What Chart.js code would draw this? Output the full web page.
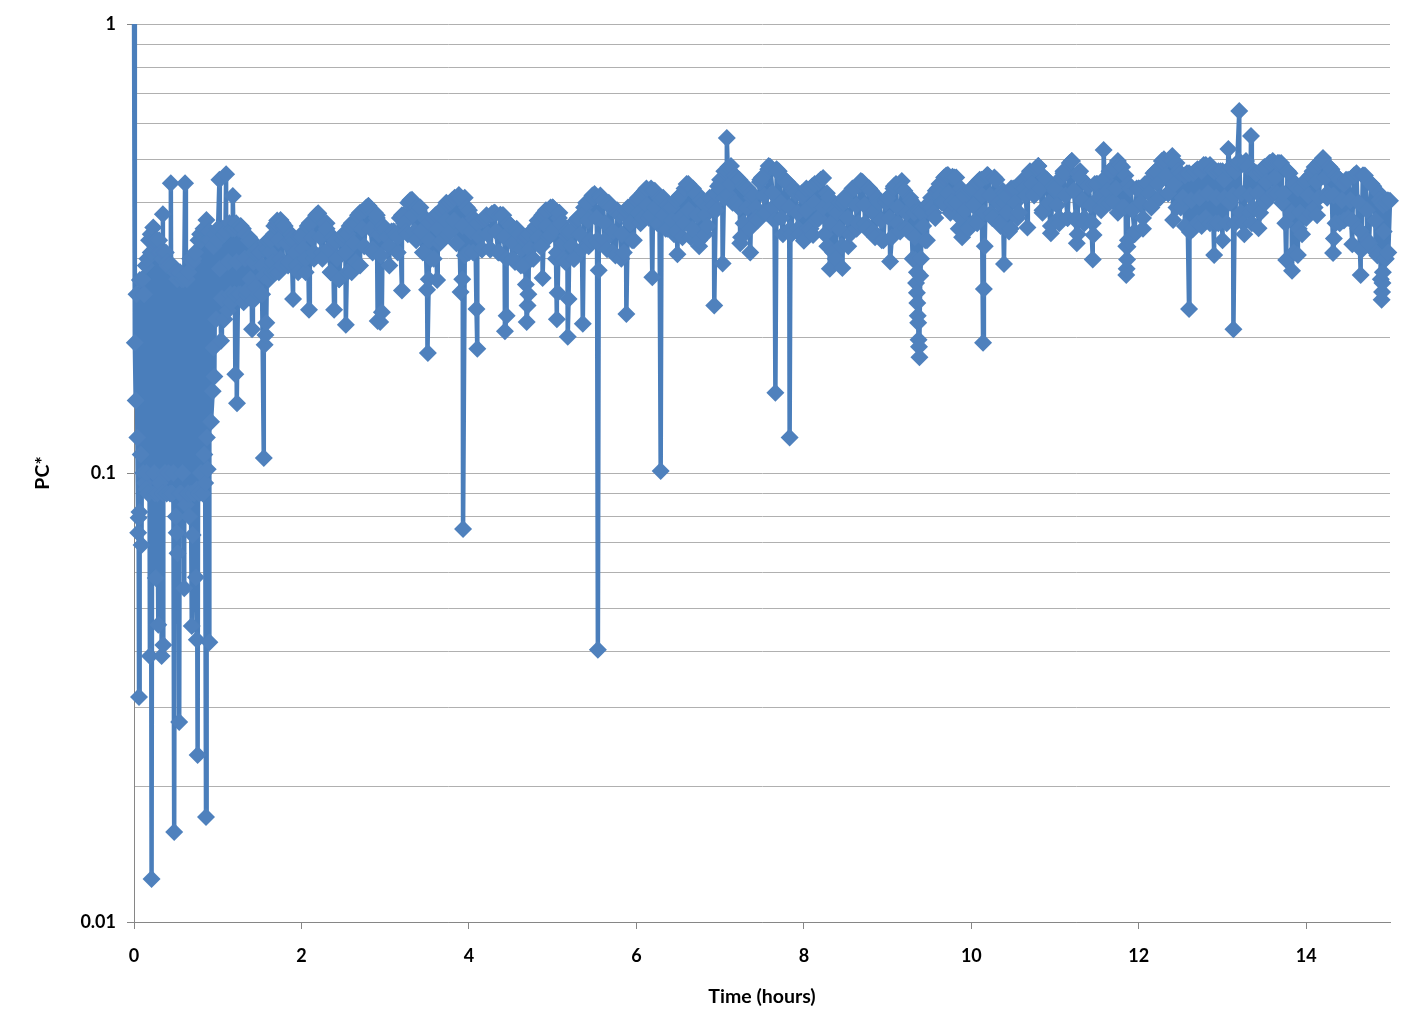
<!DOCTYPE html>
<html>
<head>
<meta charset="utf-8">
<title>PC* vs time</title>
<script src="https://cdn.jsdelivr.net/npm/chart.js@4"></script>
<style>
  html, body { margin: 0; padding: 0; background: #fff; }
  canvas { display: block; }
</style>
</head>
<body>
<canvas id="chart" width="1424" height="1035"></canvas>
<script>
// spikes and single readings, one row per hour
const times = [
  0.00, 0.01, 0.02, 0.03, 0.04, 0.05, 0.055, 0.06, 0.065, 0.07, 0.08, 0.09, 0.10, 0.11, 0.12, 0.13, 0.14, 0.15, 0.16, 0.17, 0.18, 0.19, 0.20, 0.21, 0.22, 0.23, 0.24, 0.25, 0.26, 0.27, 0.28, 0.29, 0.30, 0.31, 0.32, 0.33, 0.34, 0.345, 0.35, 0.36, 0.37, 0.38, 0.39, 0.40, 0.41, 0.42, 0.43, 0.44, 0.45, 0.46, 0.47, 0.48, 0.49, 0.50, 0.51, 0.515, 0.52, 0.53, 0.54, 0.55, 0.56, 0.57, 0.58, 0.59, 0.60, 0.61, 0.62, 0.63, 0.64, 0.65, 0.66, 0.67, 0.68, 0.69, 0.70, 0.71, 0.72, 0.73, 0.74, 0.75, 0.76, 0.77, 0.78, 0.79, 0.80, 0.81, 0.82, 0.83, 0.84, 0.85, 0.86, 0.865, 0.87, 0.88, 0.89, 0.90, 0.91, 0.92, 0.94, 0.95, 0.96, 0.97, 0.98,
  1.00, 1.02, 1.04, 1.06, 1.08, 1.10, 1.12, 1.14, 1.16, 1.18, 1.20, 1.21, 1.22, 1.23, 1.25, 1.27, 1.29, 1.31, 1.33, 1.35, 1.37, 1.39, 1.41, 1.42, 1.43, 1.45, 1.47, 1.49, 1.51, 1.53, 1.55, 1.56, 1.57, 1.58, 1.59, 1.61, 1.63, 1.65, 1.67, 1.69, 1.71, 1.73, 1.75, 1.77, 1.80, 1.84, 1.88, 1.90, 1.92, 1.96,
  2.00, 2.05, 2.09, 2.10, 2.15, 2.20, 2.25, 2.30, 2.35, 2.39, 2.40, 2.45, 2.50, 2.53, 2.55, 2.60, 2.65, 2.70, 2.75, 2.80, 2.85, 2.90, 2.91, 2.94, 2.96, 2.97,
  3.00, 3.05, 3.10, 3.15, 3.20, 3.22, 3.27, 3.32, 3.37, 3.42, 3.47, 3.50, 3.51, 3.52, 3.53, 3.58, 3.62, 3.63, 3.68, 3.73, 3.78, 3.83, 3.88, 3.90, 3.92, 3.93, 3.95,
  4.00, 4.05, 4.09, 4.10, 4.11, 4.16, 4.21, 4.26, 4.31, 4.36, 4.41, 4.43, 4.45, 4.47, 4.52, 4.57, 4.62, 4.67, 4.68, 4.69, 4.70, 4.71, 4.72, 4.77, 4.82, 4.87, 4.88, 4.92, 4.97,
  5.00, 5.04, 5.05, 5.06, 5.08, 5.13, 5.17, 5.18, 5.19, 5.21, 5.26, 5.31, 5.36, 5.38, 5.43, 5.48, 5.53, 5.54, 5.55, 5.57, 5.62, 5.67, 5.72, 5.77, 5.82, 5.87, 5.88, 5.92, 5.97,
  6.02, 6.07, 6.12, 6.17, 6.19, 6.22, 6.27, 6.29, 6.32, 6.37, 6.42, 6.47, 6.49, 6.52, 6.57, 6.62, 6.67, 6.72, 6.75, 6.77, 6.82, 6.87, 6.93, 6.95,
  7.00, 7.03, 7.05, 7.08, 7.10, 7.13, 7.18, 7.23, 7.24, 7.28, 7.33, 7.36, 7.38, 7.43, 7.48, 7.53, 7.58, 7.63, 7.66, 7.68, 7.73, 7.78, 7.83, 7.84, 7.88, 7.93, 7.98,
  8.00, 8.03, 8.08, 8.11, 8.13, 8.18, 8.23, 8.28, 8.31, 8.33, 8.38, 8.43, 8.46, 8.48, 8.53, 8.58, 8.63, 8.68, 8.73, 8.78, 8.83, 8.88, 8.93, 8.98,
  9.03, 9.07, 9.12, 9.17, 9.22, 9.27, 9.30, 9.32, 9.33, 9.34, 9.35, 9.355, 9.36, 9.365, 9.37, 9.375, 9.38, 9.39, 9.40, 9.42, 9.47, 9.52, 9.57, 9.62, 9.67, 9.72, 9.77, 9.82, 9.87, 9.89, 9.92, 9.97,
  10.02, 10.07, 10.12, 10.14, 10.15, 10.16, 10.19, 10.24, 10.29, 10.34, 10.39, 10.40, 10.42, 10.47, 10.52, 10.57, 10.62, 10.67, 10.70, 10.75, 10.80, 10.85, 10.90, 10.95,
  11.00, 11.05, 11.10, 11.15, 11.20, 11.25, 11.26, 11.27, 11.30, 11.35, 11.40, 11.45, 11.46, 11.50, 11.55, 11.58, 11.60, 11.65, 11.70, 11.75, 11.80, 11.84, 11.85, 11.855, 11.86, 11.865, 11.87, 11.90, 11.95,
  12.00, 12.05, 12.10, 12.15, 12.20, 12.25, 12.30, 12.35, 12.40, 12.41, 12.45, 12.50, 12.55, 12.60, 12.61, 12.65, 12.70, 12.75, 12.80, 12.85, 12.90, 12.92, 12.95,
  13.00, 13.02, 13.07, 13.09, 13.13, 13.15, 13.20, 13.22, 13.26, 13.28, 13.33, 13.34, 13.36, 13.41, 13.43, 13.46, 13.51, 13.56, 13.61, 13.66, 13.71, 13.76, 13.78, 13.83, 13.85, 13.90, 13.91, 13.95,
  14.00, 14.05, 14.10, 14.13, 14.15, 14.20, 14.25, 14.30, 14.32, 14.33, 14.35, 14.40, 14.45, 14.50, 14.55, 14.57, 14.62, 14.65, 14.66, 14.68, 14.73, 14.78, 14.83, 14.87, 14.89, 14.90, 14.905, 14.91, 14.915, 14.92, 14.94, 14.96, 14.98, 15.00
];

const pcValues = [
  1.15, 0.195, 0.145, 0.25, 0.12, 0.0736, 0.0795, 0.0317, 0.0819, 0.269, 0.11, 0.0691, 0.27, 0.1, 0.25, 0.095, 0.29, 0.1, 0.3, 0.09, 0.33, 0.0391, 0.34, 0.01247, 0.328, 0.352, 0.1, 0.33, 0.0584, 0.33, 0.09, 0.0459, 0.31, 0.095, 0.31, 0.0391, 0.30, 0.377, 0.0414, 0.31, 0.1, 0.31, 0.09, 0.29, 0.1, 0.29, 0.09, 0.442, 0.09, 0.29, 0.1, 0.01587, 0.28, 0.08, 0.0736, 0.27, 0.0663, 0.28, 0.0279, 0.28, 0.09, 0.27, 0.1, 0.27, 0.0554, 0.442, 0.085, 0.27, 0.09, 0.28, 0.08, 0.3, 0.09, 0.0456, 0.0728, 0.3, 0.09, 0.31, 0.0586, 0.0425, 0.02355, 0.33, 0.09, 0.34, 0.1, 0.34, 0.09, 0.35, 0.11, 0.35, 0.01714, 0.366, 0.12, 0.102, 0.33, 0.042, 0.33, 0.13, 0.152, 0.32, 0.164, 0.34, 0.22,
  0.35, 0.45, 0.197, 0.35, 0.22, 0.463, 0.23, 0.36, 0.24, 0.414, 0.25, 0.166, 0.36, 0.143, 0.35, 0.25, 0.35, 0.24, 0.34, 0.25, 0.33, 0.27, 0.209, 0.242, 0.31, 0.26, 0.31, 0.25, 0.31, 0.25, 0.108, 0.193, 0.203, 0.216, 0.315, 0.27, 0.33, 0.28, 0.34, 0.28, 0.365, 0.28, 0.366, 0.29, 0.35, 0.29, 0.33, 0.244, 0.33, 0.28,
  0.34, 0.28, 0.231, 0.36, 0.30, 0.379, 0.31, 0.36, 0.28, 0.231, 0.325, 0.27, 0.33, 0.214, 0.34, 0.28, 0.36, 0.29, 0.385, 0.393, 0.31, 0.37, 0.218, 0.217, 0.228, 0.35,
  0.345, 0.29, 0.345, 0.31, 0.255, 0.375, 0.34, 0.406, 0.33, 0.39, 0.31, 0.256, 0.185, 0.27, 0.36, 0.30, 0.269, 0.379, 0.33, 0.40, 0.345, 0.41, 0.416, 0.253, 0.27, 0.075, 0.41,
  0.31, 0.37, 0.232, 0.189, 0.36, 0.315, 0.375, 0.315, 0.38, 0.31, 0.375, 0.207, 0.224, 0.36, 0.30, 0.35, 0.29, 0.33, 0.263, 0.217, 0.236, 0.25, 0.34, 0.30, 0.365, 0.32, 0.272, 0.385, 0.339,
  0.39, 0.30, 0.22, 0.252, 0.38, 0.30, 0.337, 0.201, 0.244, 0.345, 0.30, 0.37, 0.215, 0.38, 0.32, 0.41, 0.33, 0.0404, 0.283, 0.415, 0.33, 0.40, 0.31, 0.385, 0.30, 0.374, 0.226, 0.39, 0.33,
  0.41, 0.37, 0.43, 0.375, 0.273, 0.425, 0.36, 0.101, 0.41, 0.35, 0.39, 0.345, 0.307, 0.415, 0.36, 0.44, 0.35, 0.42, 0.32, 0.405, 0.34, 0.395, 0.236, 0.42,
  0.45, 0.293, 0.47, 0.557, 0.416, 0.483, 0.40, 0.45, 0.325, 0.36, 0.43, 0.31, 0.41, 0.37, 0.45, 0.38, 0.483, 0.39, 0.151, 0.47, 0.37, 0.445, 0.12, 0.35, 0.43, 0.35, 0.414,
  0.329, 0.43, 0.35, 0.339, 0.44, 0.37, 0.454, 0.32, 0.285, 0.39, 0.30, 0.40, 0.286, 0.41, 0.32, 0.43, 0.35, 0.447, 0.36, 0.43, 0.345, 0.41, 0.33, 0.40,
  0.296, 0.43, 0.36, 0.447, 0.35, 0.41, 0.30, 0.38, 0.298, 0.265, 0.252, 0.239, 0.224, 0.216, 0.198, 0.191, 0.181, 0.275, 0.30, 0.379, 0.33, 0.41, 0.37, 0.44, 0.40, 0.461, 0.40, 0.455, 0.37, 0.335, 0.414, 0.35,
  0.43, 0.36, 0.45, 0.195, 0.257, 0.32, 0.461, 0.38, 0.45, 0.36, 0.292, 0.40, 0.414, 0.35, 0.43, 0.38, 0.45, 0.352, 0.47, 0.42, 0.483, 0.38, 0.45, 0.342,
  0.425, 0.37, 0.47, 0.37, 0.495, 0.37, 0.325, 0.34, 0.47, 0.37, 0.435, 0.299, 0.339, 0.44, 0.39, 0.524, 0.40, 0.47, 0.402, 0.495, 0.39, 0.46, 0.276, 0.285, 0.299, 0.319, 0.33, 0.43, 0.34,
  0.43, 0.35, 0.44, 0.39, 0.47, 0.41, 0.49, 0.42, 0.508, 0.366, 0.49, 0.39, 0.46, 0.232, 0.344, 0.465, 0.36, 0.47, 0.37, 0.485, 0.306, 0.36, 0.47,
  0.33, 0.45, 0.527, 0.40, 0.209, 0.47, 0.64, 0.38, 0.34, 0.495, 0.38, 0.563, 0.39, 0.465, 0.351, 0.47, 0.40, 0.49, 0.42, 0.49, 0.40, 0.298, 0.47, 0.282, 0.44, 0.306, 0.35, 0.43,
  0.37, 0.46, 0.39, 0.375, 0.49, 0.503, 0.42, 0.47, 0.309, 0.333, 0.46, 0.36, 0.44, 0.37, 0.323, 0.46, 0.35, 0.276, 0.314, 0.46, 0.33, 0.44, 0.31, 0.42, 0.27, 0.243, 0.253, 0.265, 0.28, 0.395, 0.30, 0.40, 0.31, 0.404
];

// readings across the dense band from 1 h on, ten per hour, one row per hour
const bandHours = [1, 2, 3, 4, 5, 6, 7, 8, 9, 10, 11, 12, 13, 14];
const bandSteps = [0, 0.1, 0.2, 0.3, 0.4, 0.5, 0.6, 0.7, 0.8, 0.9];

const upperValues = [
  0.33, 0.345, 0.35, 0.35, 0.33, 0.31, 0.33, 0.36, 0.355, 0.335,
  0.335, 0.36, 0.378, 0.35, 0.33, 0.34, 0.36, 0.38, 0.393, 0.375,
  0.35, 0.345, 0.375, 0.405, 0.385, 0.365, 0.375, 0.39, 0.405, 0.41,
  0.385, 0.36, 0.37, 0.38, 0.375, 0.355, 0.34, 0.335, 0.355, 0.38,
  0.39, 0.36, 0.34, 0.37, 0.40, 0.418, 0.405, 0.39, 0.375, 0.39,
  0.405, 0.425, 0.425, 0.405, 0.39, 0.41, 0.44, 0.42, 0.40, 0.41,
  0.44, 0.48, 0.455, 0.43, 0.415, 0.455, 0.48, 0.47, 0.445, 0.42,
  0.42, 0.435, 0.45, 0.41, 0.38, 0.405, 0.43, 0.445, 0.425, 0.40,
  0.41, 0.44, 0.425, 0.40, 0.38, 0.40, 0.43, 0.46, 0.455, 0.42,
  0.43, 0.45, 0.46, 0.45, 0.42, 0.43, 0.445, 0.465, 0.483, 0.45,
  0.43, 0.465, 0.495, 0.455, 0.435, 0.44, 0.45, 0.48, 0.48, 0.43,
  0.43, 0.442, 0.47, 0.50, 0.495, 0.465, 0.465, 0.475, 0.485, 0.47,
  0.47, 0.48, 0.495, 0.48, 0.465, 0.48, 0.495, 0.49, 0.465, 0.43,
  0.45, 0.48, 0.50, 0.475, 0.45, 0.45, 0.465, 0.46, 0.435, 0.40
];
const middleValues = [
  0.285, 0.295, 0.295, 0.30, 0.295, 0.29, 0.31, 0.33, 0.325, 0.31,
  0.315, 0.335, 0.335, 0.315, 0.30, 0.31, 0.325, 0.35, 0.35, 0.34,
  0.335, 0.34, 0.36, 0.375, 0.345, 0.33, 0.35, 0.365, 0.365, 0.355,
  0.345, 0.335, 0.34, 0.345, 0.335, 0.325, 0.315, 0.315, 0.335, 0.355,
  0.35, 0.325, 0.32, 0.34, 0.365, 0.37, 0.36, 0.345, 0.34, 0.36,
  0.38, 0.395, 0.39, 0.375, 0.365, 0.37, 0.385, 0.375, 0.375, 0.395,
  0.425, 0.44, 0.39, 0.39, 0.39, 0.415, 0.42, 0.40, 0.39, 0.38,
  0.385, 0.40, 0.39, 0.36, 0.35, 0.37, 0.395, 0.395, 0.38, 0.365,
  0.37, 0.39, 0.38, 0.335, 0.355, 0.39, 0.415, 0.42, 0.40, 0.385,
  0.395, 0.415, 0.415, 0.40, 0.38, 0.40, 0.43, 0.44, 0.43, 0.40,
  0.395, 0.415, 0.425, 0.405, 0.395, 0.41, 0.425, 0.43, 0.39, 0.385,
  0.40, 0.42, 0.44, 0.46, 0.44, 0.41, 0.405, 0.41, 0.42, 0.41,
  0.41, 0.415, 0.42, 0.415, 0.42, 0.445, 0.455, 0.42, 0.38, 0.38,
  0.415, 0.445, 0.455, 0.415, 0.405, 0.405, 0.40, 0.385, 0.365, 0.345
];
const lowerValues = [
  0.245, 0.25, 0.25, 0.255, 0.26, 0.275, 0.295, 0.30, 0.295, 0.29,
  0.30, 0.31, 0.30, 0.28, 0.27, 0.28, 0.295, 0.32, 0.315, 0.305,
  0.32, 0.335, 0.345, 0.345, 0.31, 0.30, 0.325, 0.34, 0.325, 0.305,
  0.31, 0.315, 0.315, 0.31, 0.30, 0.295, 0.29, 0.30, 0.32, 0.335,
  0.31, 0.295, 0.30, 0.315, 0.33, 0.325, 0.315, 0.305, 0.31, 0.33,
  0.36, 0.37, 0.36, 0.35, 0.34, 0.335, 0.335, 0.33, 0.355, 0.385,
  0.41, 0.40, 0.335, 0.35, 0.365, 0.38, 0.365, 0.34, 0.34, 0.34,
  0.35, 0.365, 0.34, 0.31, 0.32, 0.34, 0.36, 0.35, 0.335, 0.33,
  0.335, 0.345, 0.345, 0.28, 0.33, 0.38, 0.40, 0.38, 0.35, 0.35,
  0.365, 0.38, 0.37, 0.355, 0.345, 0.37, 0.415, 0.415, 0.385, 0.355,
  0.36, 0.37, 0.365, 0.36, 0.36, 0.385, 0.40, 0.38, 0.32, 0.345,
  0.37, 0.395, 0.41, 0.42, 0.39, 0.355, 0.35, 0.355, 0.36, 0.36,
  0.36, 0.36, 0.36, 0.36, 0.38, 0.41, 0.42, 0.36, 0.31, 0.34,
  0.38, 0.41, 0.41, 0.36, 0.365, 0.365, 0.345, 0.325, 0.305, 0.30
];
const crestValues = [
  0.34, 0.35, 0.355, 0.335, 0.315, 0.325, 0.355, 0.36, 0.34, 0.335,
  0.355, 0.375, 0.36, 0.335, 0.335, 0.355, 0.375, 0.39, 0.38, 0.355,
  0.345, 0.37, 0.40, 0.39, 0.37, 0.37, 0.385, 0.40, 0.41, 0.39,
  0.365, 0.367, 0.378, 0.376, 0.36, 0.345, 0.335, 0.35, 0.375, 0.39,
  0.37, 0.345, 0.365, 0.39, 0.415, 0.41, 0.395, 0.38, 0.385, 0.40,
  0.42, 0.43, 0.41, 0.395, 0.405, 0.43, 0.43, 0.405, 0.41, 0.435,
  0.47, 0.46, 0.435, 0.42, 0.445, 0.475, 0.475, 0.45, 0.425, 0.42,
  0.43, 0.445, 0.42, 0.385, 0.40, 0.425, 0.44, 0.43, 0.405, 0.405,
  0.435, 0.43, 0.405, 0.385, 0.395, 0.425, 0.455, 0.457, 0.43, 0.425,
  0.445, 0.457, 0.455, 0.425, 0.43, 0.44, 0.46, 0.478, 0.455, 0.435,
  0.455, 0.49, 0.465, 0.44, 0.44, 0.45, 0.47, 0.485, 0.44, 0.43,
  0.44, 0.465, 0.495, 0.50, 0.47, 0.465, 0.47, 0.485, 0.475, 0.47,
  0.475, 0.49, 0.485, 0.47, 0.475, 0.49, 0.49, 0.47, 0.44, 0.445,
  0.47, 0.495, 0.48, 0.455, 0.45, 0.46, 0.46, 0.44, 0.405, 0.405
];

// the first hour, where the band reaches down to about 0.09
const earlyUpperTimes = [0.1, 0.2, 0.3, 0.4, 0.5, 0.6, 0.7, 0.8, 0.9];
const earlyUpperValues = [0.27, 0.31, 0.33, 0.295, 0.28, 0.275, 0.295, 0.33, 0.345];
const earlyLowerTimes = [0.15, 0.25, 0.35, 0.45, 0.55, 0.65, 0.75, 0.85, 0.95];
const earlyLowerValues = [0.092, 0.09, 0.09, 0.09, 0.09, 0.09, 0.092, 0.095, 0.19];

const xTickValues = [0, 2, 4, 6, 8, 10, 12, 14];
const yTickValues = [0.01, 0.02, 0.03, 0.04, 0.05, 0.06, 0.07, 0.08, 0.09, 0.1, 0.2, 0.3, 0.4, 0.5, 0.6, 0.7, 0.8, 0.9, 1];
const yLabelled = [0.01, 0.1, 1];

const axisFont = { family: "Lato", size: 18, weight: "bold" };
const titleFont = { family: "Lato", size: 19.5, weight: "bold" };

const toPoints = (ts, vs) => ts.map((t, i) => ({ x: t, y: vs[i] }));
const bandTimes = bandHours.flatMap((h) => bandSteps.map((s) => h + s));
const points = [
  ...toPoints(times, pcValues),
  ...toPoints(earlyUpperTimes, earlyUpperValues),
  ...toPoints(earlyLowerTimes, earlyLowerValues),
  ...toPoints(bandTimes, upperValues),
  ...toPoints(bandTimes.map((t) => t + 0.025), middleValues),
  ...toPoints(bandTimes.map((t) => t + 0.05), lowerValues),
  ...toPoints(bandTimes.map((t) => t + 0.075), crestValues),
].sort((a, b) => a.x - b.x);

new Chart(document.getElementById("chart").getContext("2d"), {
  type: "line",
  data: {
    datasets: [
      {
        label: "PC*",
        data: points,
        borderColor: "#4a7ebb",
        backgroundColor: "#4f81bd",
        borderWidth: 4.5,
        borderJoinStyle: "round",
        tension: 0,
        pointStyle: "rectRot",
        pointRadius: 9,
        pointBorderWidth: 0,
        clip: { left: 10, right: 10, top: 0, bottom: 10 },
      },
    ],
  },
  options: {
    responsive: false,
    animation: false,
    layout: { padding: { left: 0, top: 24, right: 34, bottom: 0 } },
    plugins: {
      legend: { display: false },
      tooltip: { enabled: false },
    },
    scales: {
      x: {
        type: "linear",
        min: 0,
        max: 15,
        afterFit: (scale) => { scale.height = 113; },
        afterBuildTicks: (scale) => { scale.ticks = xTickValues.map((value) => ({ value })); },
        border: { color: "#868686", width: 1 },
        grid: { drawOnChartArea: false, tickLength: 7, tickColor: "#868686" },
        ticks: {
          color: "#000",
          font: axisFont,
          padding: 16,
          maxRotation: 0,
          autoSkip: false,
          callback: (value) => String(value),
        },
        title: {
          display: true,
          text: "Time (hours)",
          color: "#000",
          font: titleFont,
          padding: { top: 0, bottom: 27 },
        },
      },
      y: {
        type: "logarithmic",
        min: 0.01,
        max: 1,
        afterFit: (scale) => { scale.width = 134; },
        afterBuildTicks: (scale) => { scale.ticks = yTickValues.map((value) => ({ value })); },
        border: { color: "#868686", width: 1 },
        grid: {
          color: "#b0b0b0",
          lineWidth: 1,
          tickLength: 7,
          // only the decades get a tick mark
          tickColor: (ctx) => (ctx.tick && yLabelled.includes(ctx.tick.value) ? "#868686" : "transparent"),
        },
        ticks: {
          color: "#000",
          font: axisFont,
          padding: 11,
          autoSkip: false,
          callback: (value) => (yLabelled.includes(value) ? String(value) : ""),
        },
        title: {
          display: true,
          text: "PC*",
          color: "#000",
          font: titleFont,
          padding: { top: 31, bottom: 0 },
        },
      },
    },
  },
});
</script>
</body>
</html>
